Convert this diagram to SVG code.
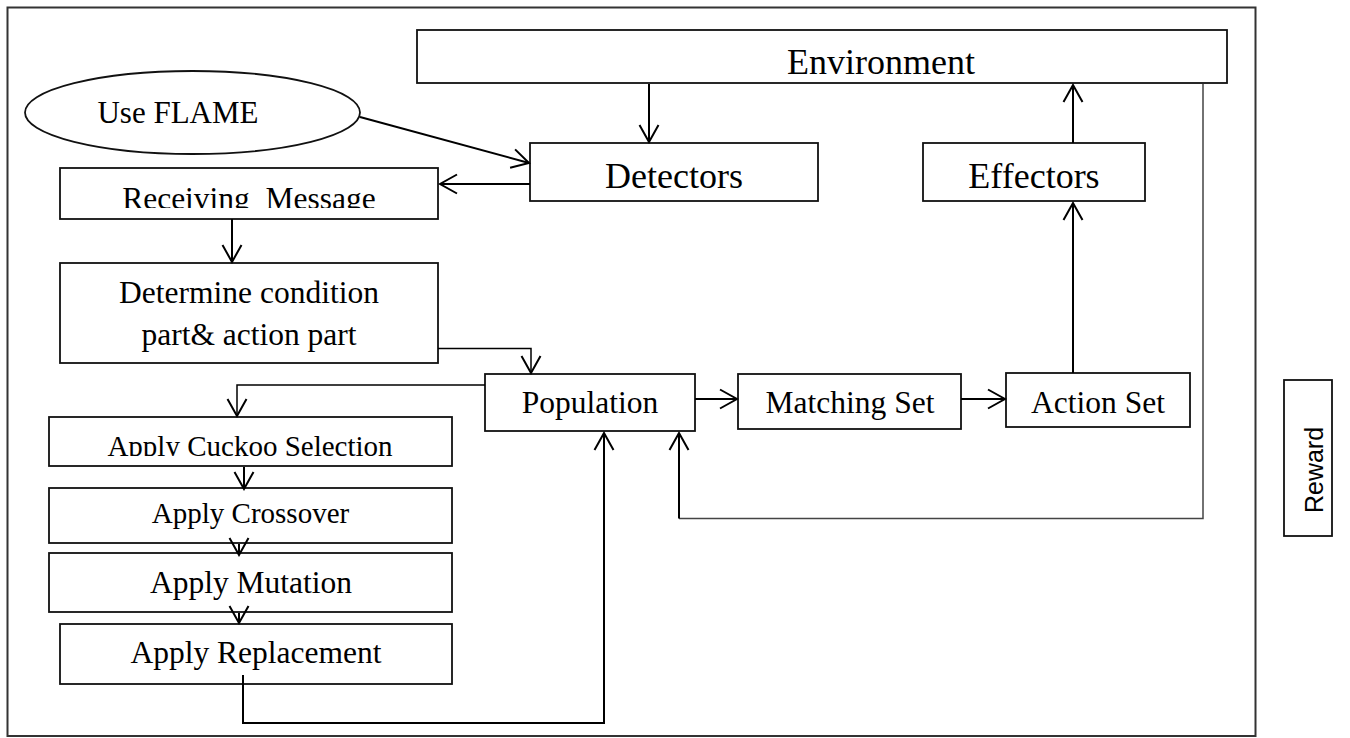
<svg xmlns="http://www.w3.org/2000/svg" width="1350" height="738" viewBox="0 0 1350 738">
<style>
.box{fill:#fff;stroke:#111;stroke-width:1.8}
.t{font-family:"Liberation Serif","Times New Roman",serif;fill:#000;text-anchor:middle}
.c{fill:none;stroke:#000;stroke-width:2}
.thin{fill:none;stroke:#444;stroke-width:1.5}
</style>
<defs>
<marker id="ah" viewBox="-19 -12 21 24" markerWidth="21" markerHeight="24" refX="0" refY="0" orient="auto" markerUnits="userSpaceOnUse">
<path d="M-17,-9.5 L0,0 L-17,9.5" fill="none" stroke="#000" stroke-width="2"/>
</marker>
<clipPath id="clipRecv"><rect x="60" y="168" width="378" height="40"/></clipPath>
<clipPath id="clipCuckoo"><rect x="49" y="417" width="403" height="39"/></clipPath>
</defs>
<rect x="7.5" y="7.5" width="1248" height="728.5" fill="#fff" stroke="#333" stroke-width="2"/>
<g id="environment">
<rect class="box" x="417" y="30" width="810" height="53"/>
<text class="t" x="881" y="74" font-size="36">Environment</text>
</g>
<g id="use-flame">
<ellipse cx="192.5" cy="112.5" rx="167.5" ry="41.5" fill="#fff" stroke="#111" stroke-width="1.8"/>
<text class="t" x="178" y="123" font-size="31">Use FLAME</text>
</g>
<g id="detectors">
<rect class="box" x="530" y="143" width="288" height="58"/>
<text class="t" x="674" y="188" font-size="36">Detectors</text>
</g>
<g id="effectors">
<rect class="box" x="923" y="143" width="222" height="58"/>
<text class="t" x="1034" y="188" font-size="36">Effectors</text>
</g>
<g id="receiving-message">
<rect class="box" x="60" y="168" width="378" height="51"/>
<text class="t" x="249" y="209" font-size="31.5" clip-path="url(#clipRecv)" xml:space="preserve">Receiving  Message</text>
</g>
<g id="determine">
<rect class="box" x="60" y="263" width="378" height="100"/>
<text class="t" x="249" y="303" font-size="31.5">Determine condition</text>
<text class="t" x="249" y="345" font-size="31.5">part&amp; action part</text>
</g>
<g id="population">
<rect class="box" x="485" y="374" width="210" height="57"/>
<text class="t" x="590" y="413" font-size="31.5">Population</text>
</g>
<g id="matching-set">
<rect class="box" x="738" y="374" width="223" height="55"/>
<text class="t" x="850" y="413" font-size="31.5">Matching Set</text>
</g>
<g id="action-set">
<rect class="box" x="1006" y="373" width="184" height="54"/>
<text class="t" x="1098" y="413" font-size="31.5">Action Set</text>
</g>
<g id="cuckoo">
<rect class="box" x="49" y="417" width="403" height="49"/>
<text class="t" x="250" y="456" font-size="29" clip-path="url(#clipCuckoo)">Apply Cuckoo Selection</text>
</g>
<g id="crossover">
<rect class="box" x="49" y="488" width="403" height="55"/>
<text class="t" x="250.5" y="523" font-size="29">Apply Crossover</text>
</g>
<g id="mutation">
<rect class="box" x="49" y="553" width="403" height="59"/>
<text class="t" x="251" y="593" font-size="31.5">Apply Mutation</text>
</g>
<g id="replacement">
<rect class="box" x="60" y="624" width="392" height="60"/>
<text class="t" x="256" y="663" font-size="31.5">Apply Replacement</text>
</g>
<g id="reward">
<rect class="box" x="1284" y="380" width="48" height="156"/>
<text x="0" y="0" transform="translate(1323,470) rotate(-90)" font-family="'Liberation Sans',Arial,sans-serif" font-size="25" text-anchor="middle" fill="#000">Reward</text>
</g>
<g id="connectors">
<path class="c" d="M649,84 V142" marker-end="url(#ah)"/>
<path class="c" d="M1073,143 V85" marker-end="url(#ah)"/>
<path class="c" d="M1073,373 V203" marker-end="url(#ah)"/>
<path class="c" d="M360,117 L529,163" marker-end="url(#ah)"/>
<path class="c" d="M530,184 H440" marker-end="url(#ah)"/>
<path class="c" d="M232,219 V262" marker-end="url(#ah)"/>
<path class="c" style="stroke-width:1.5" d="M438,348.5 H531 V373" marker-end="url(#ah)"/>
<path class="c" style="stroke-width:1.5" d="M485,385 H237 V416" marker-end="url(#ah)"/>
<path class="c" d="M695,399 H737" marker-end="url(#ah)"/>
<path class="c" d="M961,399 H1005" marker-end="url(#ah)"/>
<path class="thin" d="M1203,84 V518.5 H679"/>
<path class="c" d="M679,518.5 V433" marker-end="url(#ah)"/>
<path class="c" d="M243,675 V723 H604 V433" marker-end="url(#ah)"/>
<path class="c" d="M244,467 V489" marker-end="url(#ah)"/>
<path class="c" d="M239,544 V555" marker-end="url(#ah)"/>
<path class="c" d="M239,613 V623" marker-end="url(#ah)"/>
</g>
</svg>
